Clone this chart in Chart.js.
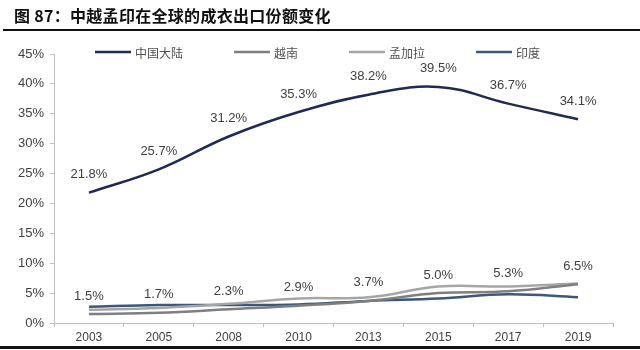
<!DOCTYPE html>
<html>
<head>
<meta charset="utf-8">
<script src="https://cdn.jsdelivr.net/npm/chart.js@4.4.1/dist/chart.umd.min.js"></script>
<style>
html,body{margin:0;padding:0;background:#fff;}
#wrap{position:relative;width:640px;height:350px;overflow:hidden;}
#title{position:absolute;left:14px;top:3px;font:bold 16px "Noto Sans CJK SC","Liberation Sans",sans-serif;color:#111;white-space:nowrap;letter-spacing:0.3px;}
#rule1{position:absolute;left:3px;right:0;top:29px;height:2px;background:#111;}
#rule2{position:absolute;left:0;right:0;top:346px;height:3px;background:#111;}
canvas{position:absolute;left:0;top:0;}
</style>
</head>
<body>
<div id="wrap">
<canvas id="c" width="640" height="350"></canvas>
<div id="title">图 87：中越孟印在全球的成衣出口份额变化</div>
<div id="rule1"></div>
<div id="rule2"></div>
</div>
<script>
const years = ["2003","2005","2008","2010","2013","2015","2017","2019"];
const seriesNames = ["中国大陆","越南","孟加拉","印度"];
const china = [21.8, 25.7, 31.2, 35.3, 38.2, 39.5, 36.7, 34.1];
const vietnam = [1.5, 1.7, 2.3, 2.9, 3.7, 5.0, 5.3, 6.5];
const bangladesh = [2.2, 2.5, 3.2, 4.1, 4.3, 6.1, 6.1, 6.6];
const india = [2.7, 3.0, 3.0, 3.1, 3.7, 4.1, 4.8, 4.3];
const yTicks = [0,5,10,15,20,25,30,35,40,45];

const colors = ["#1f2a55","#7f7f7f","#a6a6a6","#3b5878"];
const labeled = [true, true, false, false];

const valueLabels = {
  id: 'valueLabels',
  afterDatasetsDraw(chart) {
    const ctx = chart.ctx;
    ctx.save();
    ctx.font = '13px "Liberation Sans", Arial, sans-serif';
    ctx.fillStyle = '#404040';
    ctx.textAlign = 'center';
    ctx.textBaseline = 'middle';
    chart.data.datasets.forEach((ds, i) => {
      if (!labeled[i]) return;
      const meta = chart.getDatasetMeta(i);
      meta.data.forEach((pt, j) => {
        ctx.fillText(ds.data[j].toFixed(1) + '%', pt.x, pt.y - 18);
      });
    });
    ctx.restore();
  }
};

const customLegend = {
  id: 'customLegend',
  afterDraw(chart) {
    const ctx = chart.ctx;
    ctx.save();
    ctx.font = '12px "Noto Sans CJK SC", sans-serif';
    ctx.textBaseline = 'middle';
    ctx.textAlign = 'left';
    let x = 95;
    const y = 52;
    chart.data.datasets.forEach((ds) => {
      ctx.strokeStyle = ds.borderColor;
      ctx.lineWidth = 2.5;
      ctx.beginPath();
      ctx.moveTo(x, y);
      ctx.lineTo(x + 36, y);
      ctx.stroke();
      ctx.fillStyle = '#505050';
      ctx.fillText(ds.label, x + 40, y + 1);
      x += 40 + ctx.measureText(ds.label).width + 51;
    });
    ctx.restore();
  }
};

new Chart(document.getElementById('c'), {
  type: 'line',
  data: {
    labels: years,
    datasets: [china, vietnam, bangladesh, india].map((d, i) => ({
      label: seriesNames[i],
      data: d,
      borderColor: colors[i],
      backgroundColor: colors[i],
      borderWidth: 2.5,
      pointRadius: 0,
      tension: 0.4,
      fill: false
    }))
  },
  options: {
    responsive: false,
    animation: false,
    layout: { padding: { top: 54, right: 27, bottom: 0, left: 0 } },
    plugins: { legend: { display: false }, tooltip: { enabled: false } },
    scales: {
      x: {
        offset: true,
        grid: { offset: true, drawOnChartArea: false, drawTicks: true, tickLength: 4, color: '#bfbfbf' },
        border: { display: true, color: '#bfbfbf', width: 1 },
        ticks: { padding: 3, color: '#404040', font: { size: 12, family: '"Liberation Sans", Arial, sans-serif' }, maxRotation: 0 },
        afterFit(s) { s.height = 27; }
      },
      y: {
        min: 0, max: 45,
        afterBuildTicks(s) { s.ticks = yTicks.map(v => ({ value: v })); },
        grid: { drawOnChartArea: false, drawTicks: true, tickLength: 4, color: '#bfbfbf' },
        border: { display: true, color: '#bfbfbf', width: 1 },
        ticks: { padding: 6, color: '#404040', font: { size: 13, family: '"Liberation Sans", Arial, sans-serif' }, callback: v => v + '%' },
        afterFit(s) { s.width = 54; }
      }
    }
  },
  plugins: [valueLabels, customLegend]
});
</script>
</body>
</html>
